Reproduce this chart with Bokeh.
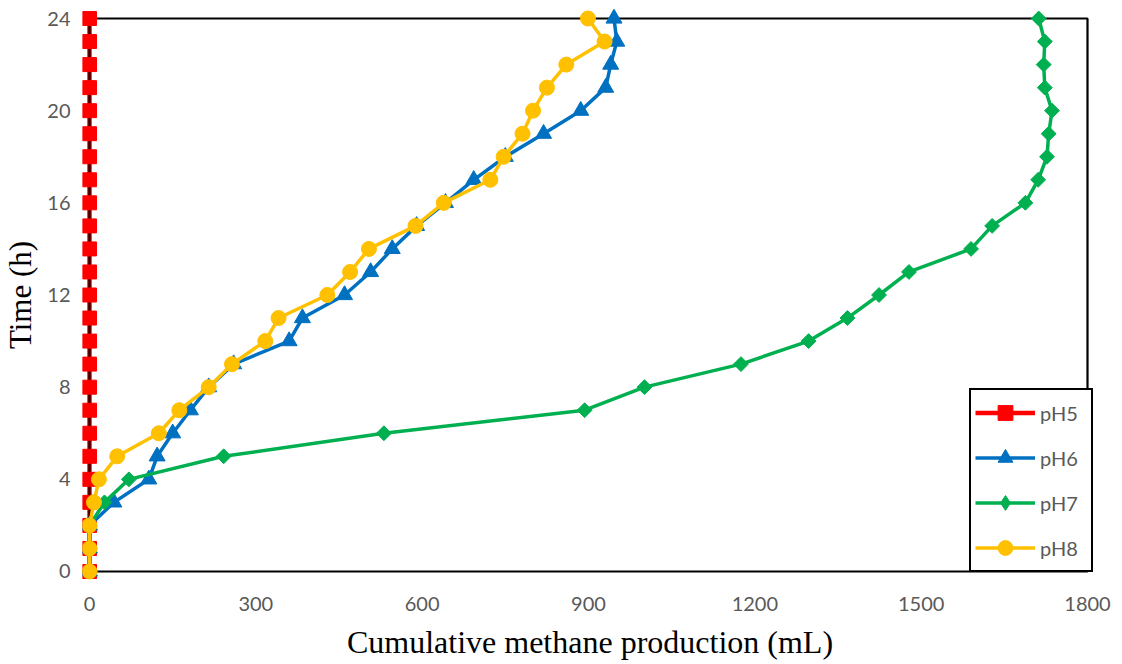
import math
from bokeh.plotting import figure
from bokeh.models import Range1d, FixedTicker, Legend, LegendItem
from bokeh.embed import file_html
from bokeh.resources import INLINE

# ---------------- data ----------------
time_h = [0, 1, 2, 3, 4, 5, 6, 7, 8, 9, 10, 11, 12, 13, 14, 15, 16, 17, 18, 19, 20, 21, 22, 23, 24]
ph5 = [0, 0, 0, 0, 0, 0, 0, 0, 0, 0, 0, 0, 0, 0, 0, 0, 0, 0, 0, 0, 0, 0, 0, 0, 0]
ph6 = [0, 0, 0, 44, 107, 122, 150, 182, 215, 260, 360, 384, 460, 507, 546, 590, 642, 693, 750, 819, 886, 931, 940, 951, 946]
ph7 = [0, 0, 0, 27, 71, 242, 531, 893, 1001, 1175, 1297, 1367, 1424, 1478, 1590, 1628, 1688, 1711, 1727, 1730, 1736, 1723, 1721, 1723, 1712]
ph8 = [0, 0, 0, 8, 17, 50, 125, 162, 215, 257, 317, 341, 429, 470, 504, 588, 639, 723, 747, 781, 800, 825, 860, 929, 899]

x_ticks = [0, 300, 600, 900, 1200, 1500, 1800]
y_ticks = [0, 4, 8, 12, 16, 20, 24]
X_MIN, X_MAX = 0, 1800
Y_MIN, Y_MAX = 0, 24

x_title = "Cumulative methane production (mL)"
y_title = "Time (h)"
series_names = ["pH5", "pH6", "pH7", "pH8"]

# ---------------- figure ----------------
p = figure(width=1122, height=664, output_backend="svg", toolbar_location=None,
           min_border_left=82, min_border_right=25, min_border_top=8, min_border_bottom=83,
           x_range=Range1d(-12.63, 1818.04), y_range=Range1d(-0.434, 24.434))
p.outline_line_color = None
p.xgrid.visible = False
p.ygrid.visible = False
p.background_fill_color = "white"
p.border_fill_color = "white"

for ax, ticks in ((p.xaxis[0], x_ticks), (p.yaxis[0], y_ticks)):
    ax.ticker = FixedTicker(ticks=ticks)
    ax.axis_line_color = None
    ax.major_tick_line_color = None
    ax.minor_tick_line_color = None
    ax.major_tick_out = 0
    ax.major_tick_in = 0
    ax.minor_tick_out = 0
    ax.minor_tick_in = 0
    ax.major_label_text_font = "Lato"
    ax.major_label_text_font_size = "20px"
    ax.major_label_text_color = "#595959"
    ax.axis_label_text_font = "Liberation Serif"
    ax.axis_label_text_font_style = "normal"
    ax.axis_label_text_color = "black"

p.xaxis.axis_label = x_title
p.xaxis.axis_label_text_font_size = "32px"
p.xaxis.major_label_standoff = 15
p.xaxis.axis_label_standoff = 10
p.yaxis.axis_label = y_title
p.yaxis.axis_label_text_font_size = "31px"
p.yaxis.major_label_standoff = 12
p.yaxis.axis_label_standoff = 6

LW = 3.5
RED, BLUE, GREEN, YELLOW = "#FF0000", "#0070C0", "#00B050", "#FFC000"
NAN = float("nan")

# pH5
r5l = p.line(ph5, time_h, line_color=RED, line_width=4.5)
# plot-area box
p.quad(left=[X_MIN], right=[X_MAX], bottom=[Y_MIN], top=[Y_MAX],
       fill_color=None, line_color="black", line_width=2.2)
r5m = p.scatter(ph5, time_h, marker="square", size=14, fill_color=RED, line_color=RED)
# pH6
r6l = p.line(ph6, time_h, line_color=BLUE, line_width=LW)
r6m = p.scatter(ph6, time_h, marker="triangle", size=16, fill_color=BLUE, line_color=BLUE)
# pH7
r7l = p.line(ph7, time_h, line_color=GREEN, line_width=LW)
r7m = p.scatter(ph7, time_h, marker="square", angle=math.pi / 4, size=10.5,
                fill_color=GREEN, line_color=GREEN)
# legend-only diamond glyph (a single non-drawable point)
r7leg = p.scatter([NAN], [NAN], marker="diamond", size=15, fill_color=GREEN, line_color=GREEN)
# pH8
r8l = p.line(ph8, time_h, line_color=YELLOW, line_width=LW)
r8m = p.scatter(ph8, time_h, marker="circle", size=15, fill_color=YELLOW, line_color=YELLOW)

legend = Legend(items=[
    LegendItem(label=series_names[0], renderers=[r5l, r5m]),
    LegendItem(label=series_names[1], renderers=[r6l, r6m]),
    LegendItem(label=series_names[2], renderers=[r7l, r7leg]),
    LegendItem(label=series_names[3], renderers=[r8l, r8m]),
], location=(887, 9))
legend.margin = 0
legend.padding = 4
legend.spacing = 8
legend.glyph_width = 60
legend.glyph_height = 37
legend.label_height = 37
legend.label_width = 47
legend.label_standoff = 5
legend.label_text_font = "Lato"
legend.label_text_font_size = "20px"
legend.label_text_color = "#595959"
legend.border_line_color = "black"
legend.border_line_alpha = 1.0
legend.border_line_width = 2.2
legend.background_fill_color = "white"
legend.background_fill_alpha = 1.0
p.add_layout(legend)

open("out.html", "w").write(file_html(p, INLINE))
